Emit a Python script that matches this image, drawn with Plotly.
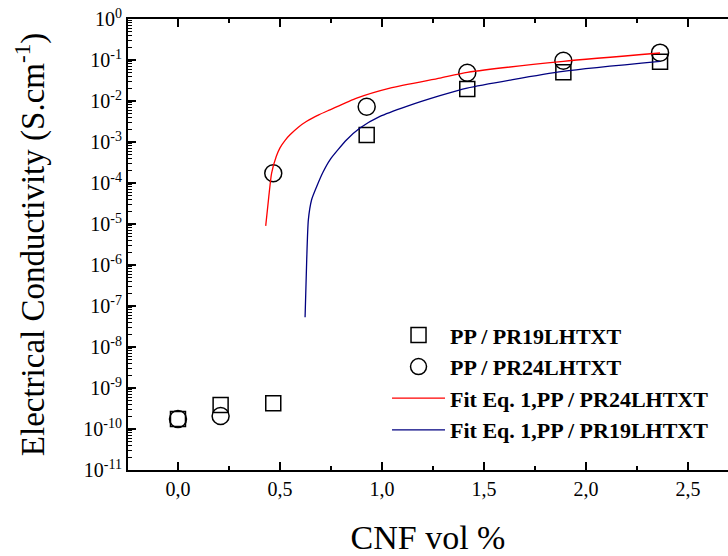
import plotly.graph_objects as go

# ---- data ----
x_pr19 = [0.0, 0.209, 0.467, 0.925, 1.418, 1.889, 2.363]
y_pr19 = [1.75e-10, 3.85e-10, 4.24e-10, 1.48e-3, 1.96e-2, 5.0e-2, 9.1e-2]

x_pr24 = [0.0, 0.209, 0.467, 0.925, 1.418, 1.889, 2.363]
y_pr24 = [1.75e-10, 2.07e-10, 1.73e-4, 7.26e-3, 4.9e-2, 9.6e-2, 1.51e-1]

# fit curves, points
x_fit24 = [0.430, 0.445, 0.459, 0.482, 0.500, 0.525, 0.549, 0.590, 0.631, 0.690, 0.745, 0.876, 1.039, 1.284, 1.418, 1.889, 2.363]
y_fit24 = [9.0e-6, 4.6e-5, 1.75e-4, 4.5e-4, 7.2e-4, 1.1e-3, 1.5e-3, 2.3e-3, 3.2e-3, 4.6e-3, 6.1e-3, 1.18e-2, 2.07e-2, 3.63e-2, 4.98e-2, 9.25e-2, 1.48e-1]

x_fit19 = [0.623, 0.631, 0.639, 0.655, 0.680, 0.710, 0.745, 0.827, 0.892, 0.990, 1.121, 1.284, 1.417, 1.887, 2.363]
y_fit19 = [5.3e-8, 1.34e-6, 1.26e-5, 3.9e-5, 8.2e-5, 1.8e-4, 3.68e-4, 1.13e-3, 2.19e-3, 4.2e-3, 7.4e-3, 1.35e-2, 2.07e-2, 5.27e-2, 9.25e-2]

x_tickvals = [0.0, 0.5, 1.0, 1.5, 2.0, 2.5]
x_ticktext = ["0,0", "0,5", "1,0", "1,5", "2,0", "2,5"]
y_exponents = list(range(0, -12, -1))

FONT = "Liberation Serif, Times New Roman, serif"

fig = go.Figure()
fig.add_trace(go.Scatter(
    x=x_pr19, y=y_pr19, mode="markers", name="PP / PR19LHTXT",
    marker=dict(symbol="square-open", size=15, color="black", line=dict(width=1.5, color="black")),
))
fig.add_trace(go.Scatter(
    x=x_pr24, y=y_pr24, mode="markers", name="PP / PR24LHTXT",
    marker=dict(symbol="circle-open", size=17, color="black", line=dict(width=1.5, color="black")),
))
fig.add_trace(go.Scatter(
    x=x_fit24, y=y_fit24, mode="lines", name="Fit Eq. 1,PP / PR24LHTXT",
    line=dict(color="#FF0000", width=1.3, shape="spline", smoothing=0.6),
))
fig.add_trace(go.Scatter(
    x=x_fit19, y=y_fit19, mode="lines", name="Fit Eq. 1,PP / PR19LHTXT",
    line=dict(color="#000080", width=1.3, shape="spline", smoothing=0.6),
))

fig.update_layout(
    width=728, height=556,
    margin=dict(l=128, r=0, t=19, b=86),
    paper_bgcolor="white", plot_bgcolor="white",
    font=dict(family=FONT, color="black", size=20),
    showlegend=True,
    legend=dict(
        x=0.4317, y=0.3455, xanchor="left", yanchor="top",
        bgcolor="rgba(0,0,0,0)",
        font=dict(family=FONT, size=22, color="black", weight="bold"),
        tracegroupgap=0, itemwidth=53,
    ),
)

fig.update_xaxes(
    range=[-0.245, 2.696],
    showgrid=False, zeroline=False,
    showline=True, linecolor="black", linewidth=2, mirror="ticks",
    ticks="inside", ticklen=8, tickwidth=1.5, tickcolor="black",
    tickvals=x_tickvals, ticktext=x_ticktext,
    tickfont=dict(family=FONT, size=20, color="black"),
    minor=dict(ticks="inside", ticklen=4, tickwidth=1.5, tickcolor="black", dtick=0.25, tick0=0, showgrid=False),
    title=dict(text="CNF vol %", font=dict(family=FONT, size=34, color="black"), standoff=26),
)
fig.update_yaxes(
    type="log", range=[-11, 0],
    showgrid=False, zeroline=False,
    showline=True, linecolor="black", linewidth=2, mirror=False,
    ticks="inside", ticklen=8, tickwidth=1.5, tickcolor="black",
    tickvals=[10.0 ** e for e in y_exponents],
    ticktext=["10<sup>%d</sup>" % e for e in y_exponents],
    tickfont=dict(family=FONT, size=20, color="black"),
    minor=dict(ticks="inside", ticklen=4, tickwidth=1.2, tickcolor="black", dtick="D1", showgrid=False),
    title=dict(text="Electrical Conductivity (S.cm<sup>-1</sup>)", font=dict(family=FONT, size=33, color="black"), standoff=29),
)

fig.write_html("out.html")
